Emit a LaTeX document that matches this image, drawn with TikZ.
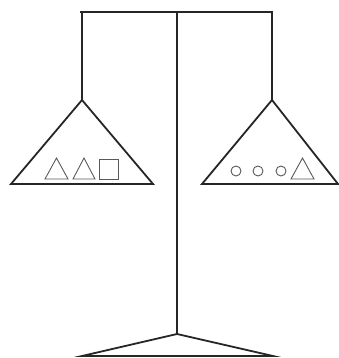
\documentclass[tikz,border=0pt]{standalone}
\begin{document}
\begin{tikzpicture}[x=1pt,y=-1pt,
  frame/.style={line width=1.8pt,draw=black!85,line join=miter},
  heavy/.style={line width=2.6pt,draw=black!85},
  item/.style={line width=0.9pt,draw=black!65}]
\useasboundingbox (0,0) rectangle (339,358);
% coordinates
\coordinate (tl) at (81,12);
\coordinate (tr) at (272,12);
\coordinate (tc) at (177,12);
\coordinate (la) at (82,100);
\coordinate (ra) at (272,100);
\coordinate (ba) at (177,334);
% top bar
\draw[heavy] (80,12) -- (273,12);
% hanging strings and post
\draw[frame] (82,12) -- (la);
\draw[frame] (272,12) -- (ra);
\draw[frame] (tc) -- (ba);
% pans
\draw[frame] (la) -- (11,184) -- (153,184) -- cycle;
\draw[frame] (ra) -- (202,184) -- (338,184) -- cycle;
% base
\draw[frame] (ba) -- (82,356) -- (273,356) -- cycle;
\draw[heavy] (82,356) -- (273,356);
% left pan items
\draw[item] (45,179) -- (56.5,158) -- (68,179) -- cycle;
\draw[item] (73,179) -- (84,158) -- (95,179) -- cycle;
\draw[item] (99,159) rectangle (118,179);
% right pan items
\draw[item] (236,171) circle (5);
\draw[item] (258,171) circle (5);
\draw[item] (281,171) circle (5);
\draw[item] (291,179) -- (302.5,158) -- (314,179) -- cycle;
\end{tikzpicture}
\end{document}
